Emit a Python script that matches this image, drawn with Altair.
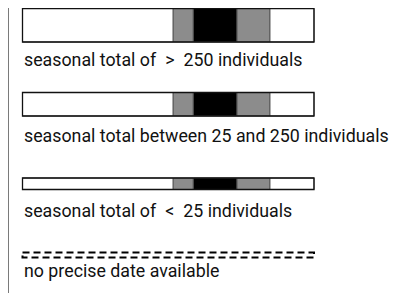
import altair as alt
import pandas as pd

# ---- data ----
labels = [
    "seasonal total of\u2002>\u2002250 individuals",
    "seasonal total between 25 and 250 individuals",
    "seasonal total of\u2002<\u200225 individuals",
    "no precise date available",
]
bar_kind = ["solid", "solid", "solid", "dashed"]
# season timeline segments (percent of season) and their abundance level
seg_start = [0, 51.7, 58.6, 73.6, 84.9]
seg_end = [51.7, 58.6, 73.6, 84.9, 100]
seg_level = ["none", "moderate", "peak", "moderate", "none"]

# ---- layout / style (layout units) ----
layout = {
    "bar_top": [0.5, 84.5, 170, 244.5],
    "bar_bottom": [34, 108, 181.5, 249.5],
    "label_base": [58, 133.5, 208.5, 269],
}
level_colors = {"none": "#ffffff", "moderate": "#8c8c8c", "peak": "#000000"}
FONT = "Roboto, sans-serif"

rows = []
for i, kind in enumerate(bar_kind):
    if kind != "solid":
        continue
    for s, e, lv in zip(seg_start, seg_end, seg_level):
        rows.append({"row": i, "start": s, "end": e, "level": lv,
                     "top": layout["bar_top"][i], "bottom": layout["bar_bottom"][i]})
seg_df = pd.DataFrame(rows)

outline_df = pd.DataFrame({
    "row": list(range(len(labels))),
    "kind": bar_kind,
    "start": [seg_start[0]] * len(labels),
    "end": [seg_end[-1]] * len(labels),
    "top": layout["bar_top"],
    "bottom": layout["bar_bottom"],
})
label_df = pd.DataFrame({"label": labels, "base": layout["label_base"]})

W, H = 393, 285
xs = alt.Scale(domain=[0, 100], range=[14.5, 306])
ys = alt.Scale(domain=[0, H], range=[0, H])

segments = alt.Chart(seg_df).mark_rect(stroke="#555555", strokeWidth=1).encode(
    x=alt.X("start:Q", scale=xs, axis=None),
    x2="end:Q",
    y=alt.Y("top:Q", scale=ys, axis=None),
    y2="bottom:Q",
    color=alt.Color("level:N", scale=alt.Scale(domain=list(level_colors.keys()),
                                               range=list(level_colors.values())), legend=None),
)

solid_outline = alt.Chart(outline_df).transform_filter(alt.datum.kind == "solid").mark_rect(
    fill=None, stroke="#111111", strokeWidth=1.3
).encode(
    x=alt.X("start:Q", scale=xs, axis=None), x2="end:Q",
    y=alt.Y("top:Q", scale=ys, axis=None), y2="bottom:Q",
)

dashed_outline = alt.Chart(outline_df).transform_filter(alt.datum.kind == "dashed").mark_rect(
    fill=None, stroke="#000000", strokeWidth=2, strokeDash=[7, 4]
).encode(
    x=alt.X("start:Q", scale=xs, axis=None), x2="end:Q",
    y=alt.Y("top:Q", scale=ys, axis=None), y2="bottom:Q",
)

text = alt.Chart(label_df).mark_text(
    align="left", baseline="alphabetic", font=FONT, fontSize=17.8, color="#111111", dx=1.5
).encode(
    x=alt.X("x0:Q", scale=xs, axis=None),
    y=alt.Y("base:Q", scale=ys, axis=None),
    text="label:N",
).transform_calculate(x0="0")

left_rule = alt.Chart(pd.DataFrame({"a": [0]})).mark_rule(color="#7a7a7a", strokeWidth=1).encode(
    x=alt.value(0.5), y=alt.value(0), y2=alt.value(H)
)

chart = alt.layer(left_rule, segments, solid_outline, dashed_outline, text).properties(
    width=W, height=H, padding=0, autosize=alt.AutoSizeParams(type="none")
).configure_view(stroke=None)

chart.save("out.html", embed_options={"renderer": "svg", "actions": False})
